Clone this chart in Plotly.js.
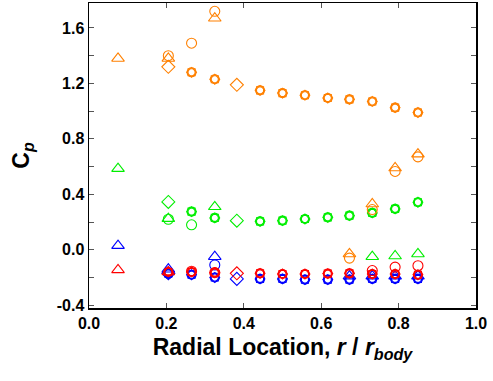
<!DOCTYPE html>
<html>
<head>
<meta charset="utf-8">
<script src="https://cdn.plot.ly/plotly-3.0.1.min.js"></script>
<style>html,body{margin:0;padding:0;background:#fff;}#chart{width:493px;height:381px;}</style>
</head>
<body>
<div id="chart"></div>
<script>
// ---- data ----
const orangeTriX = [0.075, 0.205, 0.325, 0.673, 0.732, 0.791, 0.85];
const orangeTriY = [1.38, 1.38, 1.67, -0.03, 0.33, 0.59, 0.69];
const orangeCircX = [0.205, 0.265, 0.325, 0.673, 0.732, 0.791, 0.85];
const orangeCircY = [1.40, 1.49, 1.72, -0.06, 0.29, 0.565, 0.67];
const orangeDiamX = [0.205, 0.382];
const orangeDiamY = [1.32, 1.19];
const orangeMainX = [0.265, 0.325, 0.442, 0.5, 0.558, 0.617, 0.673, 0.732, 0.791, 0.85];
const orangeMainY = [1.28, 1.23, 1.15, 1.13, 1.115, 1.095, 1.085, 1.07, 1.025, 0.99];

const greenTriX = [0.075, 0.205, 0.325, 0.732, 0.791, 0.85];
const greenTriY = [0.585, 0.225, 0.31, -0.05, -0.045, -0.03];
const greenCircX = [0.205, 0.265];
const greenCircY = [0.22, 0.18];
const greenDiamX = [0.205, 0.382];
const greenDiamY = [0.345, 0.21];
const greenMainX = [0.265, 0.325, 0.442, 0.5, 0.558, 0.617, 0.673, 0.732, 0.791, 0.85];
const greenMainY = [0.275, 0.23, 0.205, 0.21, 0.222, 0.234, 0.246, 0.266, 0.295, 0.343];

const blueTriX = [0.075, 0.205, 0.325, 0.673, 0.732, 0.791, 0.85];
const blueTriY = [0.03, -0.14, -0.05, -0.19, -0.19, -0.19, -0.19];
const blueCircX = [0.205, 0.325];
const blueCircY = [-0.17, -0.11];
const blueDiamX = [0.205, 0.382];
const blueDiamY = [-0.17, -0.21];
const blueMainX = [0.205, 0.265, 0.325, 0.442, 0.5, 0.558, 0.617, 0.673, 0.732, 0.791, 0.85];
const blueMainY = [-0.17, -0.18, -0.2, -0.21, -0.21, -0.215, -0.215, -0.215, -0.21, -0.21, -0.21];

const redTriX = [0.075, 0.205];
const redTriY = [-0.145, -0.16];
const redCircX = [0.265, 0.325, 0.732, 0.791, 0.85];
const redCircY = [-0.155, -0.165, -0.15, -0.125, -0.115];
const redDiamX = [0.382];
const redDiamY = [-0.17];
const redMainX = [0.205, 0.265, 0.325, 0.442, 0.5, 0.558, 0.617, 0.673, 0.732, 0.791, 0.85];
const redMainY = [-0.16, -0.16, -0.165, -0.17, -0.175, -0.175, -0.172, -0.17, -0.175, -0.175, -0.18];

const yTickVals = [-0.4, -0.2, 0, 0.2, 0.4, 0.6, 0.8, 1.0, 1.2, 1.4, 1.6];
const yTickText = ['-0.4', '', '0.0', '', '0.4', '', '0.8', '', '1.2', '', '1.6'];
const xTickVals = [0, 0.2, 0.4, 0.6, 0.8, 1.0];
const xTickText = ['0.0', '0.2', '0.4', '0.6', '0.8', '1.0'];

// ---- traces ----
function tr(x, y, color, symbol, size) {
  return {x: x, y: y, type: 'scatter', mode: 'markers', showlegend: false,
    marker: {symbol: symbol, size: size, color: color, line: {color: color, width: 1.1}}};
}
function group(color, tx, ty, cx, cy, dx, dy, mx, my) {
  return [
    tr(mx, my, color, 'circle-open', 9),
    tr(mx, my, color, 'square-open', 7),
    tr(mx, my, color, 'diamond-open', 7.5),
    tr(tx, ty, color, 'triangle-up-open', 11),
    tr(cx, cy, color, 'circle-open', 10),
    tr(dx, dy, color, 'diamond-open', 10)
  ];
}
const ORANGE = '#FF8000', GREEN = '#00EE00', BLUE = '#0000FF', RED = '#FF0000';
const data = [].concat(
  group(GREEN, greenTriX, greenTriY, greenCircX, greenCircY, greenDiamX, greenDiamY, greenMainX, greenMainY),
  group(BLUE, blueTriX, blueTriY, blueCircX, blueCircY, blueDiamX, blueDiamY, blueMainX, blueMainY),
  group(RED, redTriX, redTriY, redCircX, redCircY, redDiamX, redDiamY, redMainX, redMainY),
  group(ORANGE, orangeTriX, orangeTriY, orangeCircX, orangeCircY, orangeDiamX, orangeDiamY, orangeMainX, orangeMainY)
);

const tickFont = {family: 'Liberation Sans, Arial, sans-serif', size: 16, color: '#000', weight: 'bold'};
const layout = {
  width: 493, height: 381,
  margin: {l: 89, r: 17, t: 3, b: 73},
  paper_bgcolor: '#fff', plot_bgcolor: '#fff',
  font: {family: 'Liberation Sans, Arial, sans-serif', color: '#000'},
  xaxis: {
    range: [0, 1], tickvals: xTickVals, ticktext: xTickText,
    ticks: 'inside', ticklen: 5, tickwidth: 1, tickcolor: '#555',
    showline: true, linecolor: '#000', linewidth: 1.5, mirror: 'ticks',
    showgrid: false, zeroline: false, tickfont: tickFont,
    title: {text: '<b>Radial Location, <i>r</i> / <i>r</i><sub><i>body</i></sub></b>',
      font: {family: 'Liberation Sans, Arial, sans-serif', size: 23, color: '#000'}, standoff: 8}
  },
  yaxis: {
    range: [-0.42, 1.78], tickvals: yTickVals, ticktext: yTickText,
    ticks: 'inside', ticklen: 5, tickwidth: 1, tickcolor: '#555',
    showline: true, linecolor: '#000', linewidth: 1.5, mirror: 'ticks',
    showgrid: false, zeroline: false, tickfont: tickFont,
    title: {text: '<b>C<sub><i>p</i></sub></b>',
      font: {family: 'Liberation Sans, Arial, sans-serif', size: 23, color: '#000'}, standoff: 20}
  }
};
Plotly.newPlot('chart', data, layout, {displayModeBar: false, staticPlot: true});
</script>
</body>
</html>
